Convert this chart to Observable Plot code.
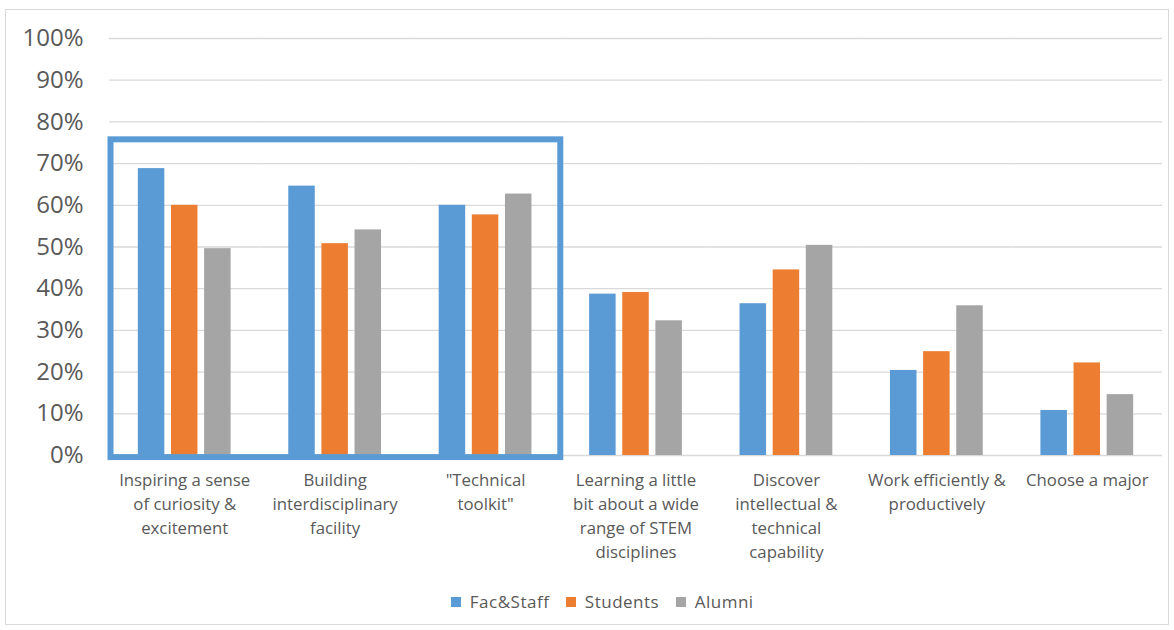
<!DOCTYPE html>
<html><head><meta charset="utf-8">
<script src="https://cdn.jsdelivr.net/npm/d3@7"></script>
<script src="https://cdn.jsdelivr.net/npm/@observablehq/plot@0.6"></script>
<style>
body{margin:0;background:#fff;font-family:"Open Sans",sans-serif;}
#frame{position:absolute;left:5px;top:9px;width:1164px;height:616px;border:1px solid #d9d9d9;box-sizing:border-box;}
#chart{position:absolute;left:0;top:0;}
#legend{position:absolute;left:24px;top:585px;width:1174px;display:flex;justify-content:center;letter-spacing:0.5px;}
</style></head><body>
<div id="frame"></div><div id="chart"></div><div id="legend"></div>
<script>
const categories = ["Inspiring", "Building", "Technical", "Learning", "Discover", "Work", "Choose"];
const categoryLabels = [
  "Inspiring a sense\nof curiosity &\nexcitement",
  "Building\ninterdisciplinary\nfacility",
  "\"Technical\ntoolkit\"",
  "Learning a little\nbit about a wide\nrange of STEM\ndisciplines",
  "Discover\nintellectual &\ntechnical\ncapability",
  "Work efficiently &\nproductively",
  "Choose a major"
];
const series = ["Fac&Staff", "Students", "Alumni"];
const facStaff = [68.8, 64.6, 60.0, 38.7, 36.4, 20.4, 10.8];
const students = [60.0, 50.8, 57.7, 39.1, 44.5, 24.9, 22.2];
const alumni   = [49.6, 54.1, 62.7, 32.3, 50.4, 35.9, 14.6];
const colors = ["#5b9bd5", "#ed7d31", "#a5a5a5"];
const yTicks = [0, 0.1, 0.2, 0.3, 0.4, 0.5, 0.6, 0.7, 0.8, 0.9, 1.0];
const highlighted = ["Inspiring", "Building", "Technical"];
const highlightY = [-0.005, 0.757];

const seriesValues = [facStaff, students, alumni];
const rows = categories.flatMap((c, i) => series.map((s, j) => ({category: c, series: s, value: seriesValues[j][i] / 100})));
const labelOf = new Map(categories.map((c, i) => [c, categoryLabels[i]]));

const font = '"Open Sans", sans-serif';
const plot = Plot.plot({
  width: 1174, height: 580,
  marginLeft: 109, marginRight: 12, marginTop: 38, marginBottom: 125,
  style: {fontFamily: font, color: "#595959", background: "transparent", overflow: "visible"},
  fx: {domain: categories, padding: 0, label: null, round: false},
  x: {domain: series, paddingInner: 0.2, paddingOuter: 0.87, round: false, axis: null},
  y: {domain: [0, 1], axis: null},
  color: {domain: series, range: colors},
  marks: [
    Plot.gridY(yTicks, {stroke: "#d9d9d9", strokeOpacity: 1, strokeWidth: 1.3}),
    Plot.axisY({ticks: yTicks, tickFormat: d3.format(".0%"), tickSize: 0, tickPadding: 26, fontSize: 24, fill: "#595959", label: null}),
    Plot.barY(rows, {fx: "category", x: "series", y: "value", fill: "series"}),
    Plot.axisFx({anchor: "bottom", tickFormat: c => labelOf.get(c), tickSize: 0, tickPadding: 13, fontSize: 16.8, lineHeight: 24 / 16.8, fill: "#595959", label: null})
  ]
});

const fxs = plot.scale("fx"), ys = plot.scale("y");
const x0 = fxs.apply(highlighted[0]) + 1.5;
const x1 = fxs.apply(highlighted[highlighted.length - 1]) + fxs.bandwidth;
const yTop = ys.apply(highlightY[1]), yBot = ys.apply(highlightY[0]);
d3.select(plot).append("rect")
  .attr("x", x0).attr("y", yTop).attr("width", x1 - x0).attr("height", yBot - yTop)
  .attr("fill", "none").attr("stroke", "#5b9bd5").attr("stroke-width", 6);
document.getElementById("chart").append(plot);

const legend = Plot.legend({
  color: {domain: series, range: colors},
  legend: "swatches", swatchSize: 10,
  style: {fontFamily: font, fontSize: "17px", color: "#595959"}
});
document.getElementById("legend").append(legend);
</script>
</body></html>
